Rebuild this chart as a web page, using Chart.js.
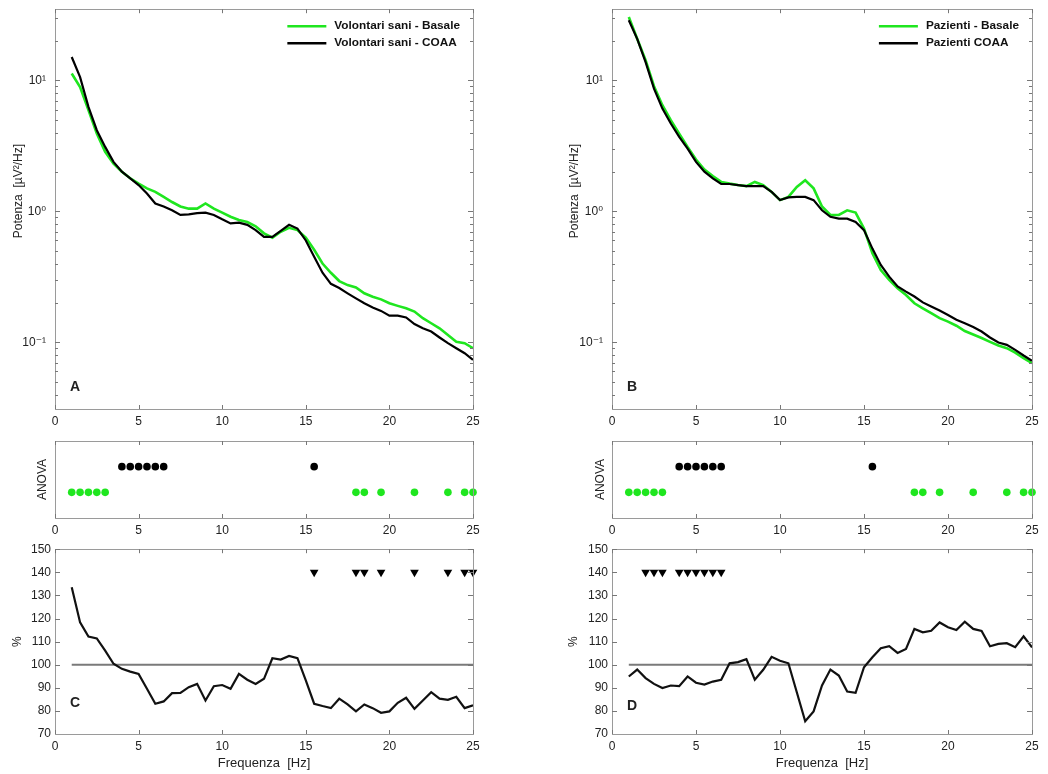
<!DOCTYPE html>
<html>
<head>
<meta charset="utf-8">
<script src="https://cdn.jsdelivr.net/npm/chart.js@4.4.1/dist/chart.umd.min.js"></script>
<style>
  html, body { margin: 0; padding: 0; background: #fff; }
  #wrap { position: relative; width: 1048px; height: 774px; overflow: hidden; }
  .box { position: absolute; }
</style>
</head>
<body>
<div id="wrap">
  <div class="box" style="left:0;top:-7px;width:500px;height:437px"><canvas id="cA"></canvas></div>
  <div class="box" style="left:540px;top:-7px;width:508px;height:437px"><canvas id="cB"></canvas></div>
  <div class="box" style="left:0;top:430px;width:500px;height:110px"><canvas id="anA"></canvas></div>
  <div class="box" style="left:540px;top:430px;width:508px;height:110px"><canvas id="anB"></canvas></div>
  <div class="box" style="left:0;top:538px;width:500px;height:236px"><canvas id="cC"></canvas></div>
  <div class="box" style="left:540px;top:538px;width:508px;height:236px"><canvas id="cD"></canvas></div>
</div>
<script>
// frequenze (Hz) - passo 0.5
const freq = [1, 1.5, 2, 2.5, 3, 3.5, 4, 4.5, 5, 5.5, 6, 6.5, 7, 7.5, 8, 8.5, 9, 9.5, 10, 10.5,
  11, 11.5, 12, 12.5, 13, 13.5, 14, 14.5, 15, 15.5, 16, 16.5, 17, 17.5, 18, 18.5, 19, 19.5, 20, 20.5,
  21, 21.5, 22, 22.5, 23, 23.5, 24, 24.5, 25];

// potenza spettrale, volontari sani
const sanoBasale = [11.3, 8.92, 5.93, 3.93, 2.85, 2.32, 2.01, 1.79, 1.63, 1.50, 1.41, 1.29, 1.18, 1.09, 1.05, 1.05, 1.15, 1.05, 0.98, 0.91,
  0.86, 0.83, 0.77, 0.68, 0.63, 0.70, 0.75, 0.72, 0.63, 0.51, 0.40, 0.34, 0.294, 0.274, 0.263, 0.237, 0.223, 0.213, 0.199, 0.190,
  0.182, 0.172, 0.153, 0.140, 0.128, 0.114, 0.101, 0.0986, 0.0903];
const sanoCoaa = [15.1, 10.6, 6.28, 4.17, 3.11, 2.39, 2.01, 1.79, 1.59, 1.37, 1.15, 1.09, 1.02, 0.94, 0.95, 0.97, 0.98, 0.94, 0.87, 0.81,
  0.82, 0.79, 0.72, 0.64, 0.64, 0.71, 0.79, 0.74, 0.60, 0.45, 0.34, 0.28, 0.26, 0.237, 0.217, 0.199, 0.185, 0.174, 0.160, 0.160,
  0.155, 0.138, 0.128, 0.121, 0.109, 0.0986, 0.0903, 0.0827, 0.0736];

// potenza spettrale, pazienti
const pazBasale = [30.5, 20.8, 14.3, 9.03, 6.47, 4.97, 3.93, 3.11, 2.49, 2.09, 1.86, 1.68, 1.63, 1.59, 1.56, 1.68, 1.59, 1.41, 1.22, 1.29,
  1.54, 1.73, 1.50, 1.09, 0.94, 0.94, 1.02, 0.98, 0.74, 0.48, 0.357, 0.30, 0.259, 0.230, 0.199, 0.182, 0.167, 0.153, 0.144, 0.134,
  0.122, 0.115, 0.108, 0.101, 0.0946, 0.0903, 0.0836, 0.0757, 0.0694];
const pazCoaa = [28.8, 20.8, 13.8, 8.66, 6.10, 4.69, 3.71, 3.02, 2.39, 2.01, 1.79, 1.62, 1.62, 1.59, 1.56, 1.56, 1.56, 1.41, 1.22, 1.28,
  1.29, 1.29, 1.22, 1.02, 0.91, 0.88, 0.88, 0.83, 0.72, 0.52, 0.39, 0.318, 0.267, 0.244, 0.224, 0.202, 0.188, 0.175, 0.162, 0.149,
  0.140, 0.131, 0.121, 0.109, 0.0997, 0.0957, 0.0877, 0.0794, 0.0723];

// rapporto COAA / basale (%)
const rapportoSani = [133.5, 118.3, 112.2, 111.4, 106.1, 100.4, 98.2, 97.0, 96.0, 89.6, 83.1, 84.1, 87.7, 87.8, 90.3, 91.7, 84.5, 90.7, 91.2, 89.6,
  96.0, 93.5, 91.7, 93.9, 102.8, 102.2, 103.8, 102.8, 93.2, 83.1, 82.1, 81.2, 85.3, 82.8, 79.8, 82.8, 81.2, 79.2, 79.8, 83.5,
  85.7, 80.9, 84.5, 88.1, 85.3, 84.8, 86.1, 81.2, 82.4];
const rapportoPaz = [94.9, 97.9, 94.2, 91.7, 89.9, 91.0, 90.7, 94.9, 92.2, 91.4, 92.7, 93.5, 100.6, 101.1, 102.4, 93.5, 97.8, 103.4, 101.7, 100.6,
  88.1, 75.5, 79.8, 91.0, 97.9, 95.3, 88.4, 87.8, 98.9, 103.2, 107.1, 108.0, 105.1, 106.8, 115.5, 114.0, 114.7, 118.3, 116.2, 115.0,
  118.6, 115.5, 114.6, 108.0, 109.0, 109.3, 107.6, 112.3, 107.5];

// linea di riferimento 100%
const rifX = [1, 25];
const rifY = [100, 100];

// ANOVA: frequenze significative
const anovaNeri = [4, 4.5, 5, 5.5, 6, 6.5, 15.5];
const anovaVerdi = [1, 1.5, 2, 2.5, 3, 18, 18.5, 19.5, 21.5, 23.5, 24.5, 25];
const anovaLivelli = [2, 1];

// frequenze significative nei rapporti (triangoli a 140%)
const sigSani = [15.5, 18, 18.5, 19.5, 21.5, 23.5, 24.5, 25];
const sigPaz = [2, 2.5, 3, 4, 4.5, 5, 5.5, 6, 6.5];
const sigLivello = 140;

// tick
const xTicks = [0, 5, 10, 15, 20, 25];
const logMajor = [0.1, 1, 10];
const logLabels = ['10\u207B\u00B9', '10\u2070', '10\u00B9'];
const pctTicks = [70, 80, 90, 100, 110, 120, 130, 140, 150];

const VERDE = '#1fe61f';
const NERO = '#000000';
const FONT = "'Liberation Sans', Arial, 'DejaVu Sans', sans-serif";

Chart.defaults.font.family = FONT;
Chart.defaults.font.size = 12;
Chart.defaults.color = '#222';

const pts = (xs, ys) => xs.map((x, i) => ({ x: x, y: ys[i] }));
const flat = (xs, y) => xs.map(x => ({ x: x, y: y }));

// minor ticks del log (2..9 per decade)
const logTicks = [];
[0.01, 0.1, 1, 10].forEach(d => { for (let k = 1; k <= 9; k++) logTicks.push(+(k * d).toPrecision(3)); });

// box, tick interni, lettera del pannello, legenda
const framePlugin = {
  id: 'frame',
  afterDraw(chart, args, o) {
    const { ctx, chartArea: a } = chart;
    ctx.save();
    ctx.strokeStyle = '#9a9a9a';
    ctx.lineWidth = 1;
    ctx.strokeRect(Math.round(a.left) + 0.5, Math.round(a.top) + 0.5, Math.round(a.width), Math.round(a.height));
    ctx.strokeStyle = '#777';
    const xs = chart.scales.x;
    xs.ticks.forEach(t => {
      const px = Math.round(xs.getPixelForValue(t.value)) + 0.5;
      ctx.beginPath();
      ctx.moveTo(px, a.bottom); ctx.lineTo(px, a.bottom - 4);
      ctx.moveTo(px, a.top); ctx.lineTo(px, a.top + 4);
      ctx.stroke();
    });
    if (o.yTicks) {
      const ys = chart.scales.y;
      ys.ticks.forEach(t => {
        const py = Math.round(ys.getPixelForValue(t.value)) + 0.5;
        if (py < a.top || py > a.bottom) return;
        const len = t.major ? 5 : 3;
        ctx.beginPath();
        ctx.moveTo(a.left, py); ctx.lineTo(a.left + len, py);
        ctx.moveTo(a.right, py); ctx.lineTo(a.right - len, py);
        ctx.stroke();
      });
    }
    if (o.letter) {
      ctx.fillStyle = '#222';
      ctx.font = 'bold 14px ' + FONT;
      ctx.textBaseline = 'middle';
      ctx.fillText(o.letter, a.left + 15, a.bottom - o.letterDy);
    }
    if (o.legend) {
      ctx.font = 'bold 11.8px ' + FONT;
      ctx.textBaseline = 'middle';
      const items = o.legend.map(i => chart.data.datasets[i]);
      const w = Math.max(...items.map(d => ctx.measureText(d.label).width));
      const x0 = a.right - 13 - w - 47;
      items.forEach((d, k) => {
        const y = a.top + 17 + k * 17;
        ctx.strokeStyle = d.borderColor;
        ctx.lineWidth = 2.5;
        ctx.beginPath(); ctx.moveTo(x0, y); ctx.lineTo(x0 + 39, y); ctx.stroke();
        ctx.fillStyle = '#111';
        ctx.fillText(d.label, x0 + 47, y);
      });
    }
    ctx.restore();
  }
};

function xScale(h, title) {
  return {
    type: 'linear', min: 0, max: 25,
    afterBuildTicks: s => { s.ticks = xTicks.map(v => ({ value: v })); },
    ticks: { padding: 5, maxRotation: 0, font: { size: 12 } },
    grid: { display: false, drawTicks: false },
    border: { display: false },
    title: title ? { display: true, text: title, font: { size: 13 }, padding: { top: 0, bottom: 3 } } : { display: false },
    afterFit: s => { s.height = h; }
  };
}

function yTitle(text, pad) {
  return { display: true, text: text, font: { size: 12 }, padding: { top: pad, bottom: 0 } };
}

function lineDs(label, xs, ys, color, width) {
  return { type: 'line', label: label, data: pts(xs, ys), borderColor: color, backgroundColor: color,
    borderWidth: width, pointRadius: 0, tension: 0, fill: false };
}

function potenzaChart(id, labels, green, black, yw, titlePad, padRight, letter) {
  return new Chart(document.getElementById(id), {
    type: 'line',
    data: {
      datasets: [
        lineDs(labels[1], freq, black, NERO, 2.2),
        lineDs(labels[0], freq, green, VERDE, 2.6)
      ]
    },
    options: {
      responsive: true, maintainAspectRatio: false, animation: false,
      layout: { padding: { top: 0, right: padRight, left: 0, bottom: 0 } },
      plugins: { legend: { display: false }, tooltip: { enabled: false },
        frame: { yTicks: true, letter: letter, letterDy: 22, legend: [1, 0] } },
      scales: {
        x: xScale(21),
        y: {
          type: 'logarithmic', min: 0.031, max: 35,
          afterBuildTicks: s => { s.ticks = logTicks.filter(v => v >= 0.031 && v <= 35).map(v => ({ value: v, major: logMajor.includes(v) })); },
          ticks: { padding: 9, autoSkip: false, font: { size: 12 },
            callback: v => { const i = logMajor.indexOf(v); return i >= 0 ? logLabels[i] : ''; } },
          grid: { display: false, drawTicks: false },
          border: { display: false },
          title: yTitle('\u2003\u2003\u2003Potenza  [\u00B5V\u00B2/Hz]', titlePad),
          afterFit: s => { s.width = yw; }
        }
      }
    },
    plugins: [framePlugin]
  });
}

function anovaChart(id, yw, titlePad, padRight) {
  const dot = (xs, y, c) => ({ type: 'scatter', data: flat(xs, y), backgroundColor: c, borderWidth: 0,
    pointRadius: 3.8, clip: false });
  return new Chart(document.getElementById(id), {
    type: 'scatter',
    data: { datasets: [dot(anovaNeri, anovaLivelli[0], NERO), dot(anovaVerdi, anovaLivelli[1], VERDE)] },
    options: {
      responsive: true, maintainAspectRatio: false, animation: false,
      layout: { padding: { top: 11, right: padRight, left: 0, bottom: 0 } },
      plugins: { legend: { display: false }, tooltip: { enabled: false }, frame: { yTicks: false } },
      scales: {
        x: xScale(22),
        y: { min: 0, max: 3, ticks: { display: false }, grid: { display: false, drawTicks: false },
          border: { display: false }, title: yTitle('ANOVA', titlePad), afterFit: s => { s.width = yw; } }
      }
    },
    plugins: [framePlugin]
  });
}

function rapportoChart(id, ratio, sig, yw, titlePad, padRight, letter, letterDy) {
  return new Chart(document.getElementById(id), {
    type: 'line',
    data: {
      datasets: [
        { type: 'scatter', data: flat(sig, sigLivello), pointStyle: 'triangle', rotation: 180,
          pointRadius: 5, backgroundColor: NERO, borderColor: NERO, borderWidth: 0, clip: false },
        lineDs('rapporto', freq, ratio, '#111', 2.2),
        lineDs('100%', rifX, rifY, '#7a7a7a', 2)
      ]
    },
    options: {
      responsive: true, maintainAspectRatio: false, animation: false,
      layout: { padding: { top: 0, right: padRight, left: 0, bottom: 0 } },
      plugins: { legend: { display: false }, tooltip: { enabled: false },
        frame: { yTicks: true, letter: letter, letterDy: letterDy } },
      scales: {
        x: xScale(40, 'Frequenza  [Hz]'),
        y: {
          min: 70, max: 150,
          afterBuildTicks: s => { s.ticks = pctTicks.map(v => ({ value: v, major: true })); },
          ticks: { padding: 4, font: { size: 12 } },
          grid: { display: false, drawTicks: false },
          border: { display: false },
          title: yTitle('%', titlePad),
          afterFit: s => { s.width = yw; }
        }
      }
    },
    plugins: [framePlugin]
  });
}

potenzaChart('cA', ['Volontari sani - Basale', 'Volontari sani - COAA'], sanoBasale, sanoCoaa, 55, 11, 27, 'A');
potenzaChart('cB', ['Pazienti - Basale', 'Pazienti COAA'], pazBasale, pazCoaa, 72, 27, 16, 'B');
anovaChart('anA', 55, 35, 27);
anovaChart('anB', 72, 53, 16);
rapportoChart('cC', rapportoSani, sigSani, 55, 10, 27, 'C', 31);
rapportoChart('cD', rapportoPaz, sigPaz, 72, 26, 16, 'D', 28);
</script>
</body>
</html>
